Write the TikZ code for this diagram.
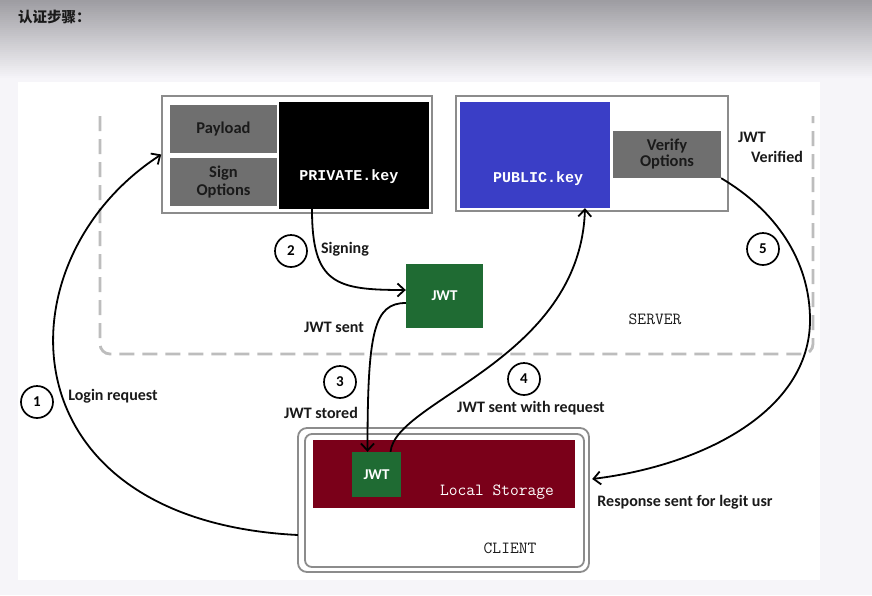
\documentclass[tikz,border=0pt]{standalone}
\usepackage{fontspec}
\setmainfont{Carlito}
\newfontfamily\keyfont{Liberation Mono}
\newfontfamily\cjkfont{Noto Sans CJK SC}
\usepackage{xcolor}
\usetikzlibrary{arrows.meta}
\definecolor{optgray}{HTML}{6F6F6F}
\definecolor{framegray}{HTML}{8C8C8C}
\definecolor{dashgray}{HTML}{BDBDBD}
\definecolor{pubblue}{HTML}{3A3EC6}
\definecolor{jwtgreen}{HTML}{1F6B33}
\definecolor{storered}{HTML}{7A0019}
\definecolor{inkblack}{HTML}{1A1A1A}
\definecolor{paper}{HTML}{F6F5F9}
\definecolor{headtop}{RGB}{158,157,162}
\definecolor{headbot}{RGB}{246,245,249}

\begin{document}
\begin{tikzpicture}[x=1pt,y=-1pt,
  txt/.style={text=inkblack,font=\bfseries\fontsize{16}{18}\selectfont,inner sep=0pt},
  keytxt/.style={text=white,font=\keyfont\bfseries\fontsize{15}{17}\selectfont,inner sep=0pt},
  sidetxt/.style={text=inkblack,font=\ttfamily\fontsize{17}{19}\selectfont,inner sep=0pt},
  optbox/.style={fill=optgray,inner sep=0pt,align=center,text=inkblack,
    font=\bfseries\fontsize{16.5}{18}\selectfont},
  frame/.style={draw=framegray,line width=1.5pt,fill=white,inner sep=0pt},
  plain/.style={inner sep=0pt},
  num/.style={circle,draw=black,line width=1.7pt,minimum size=32pt,inner sep=0pt,
    font=\bfseries\fontsize{15}{17}\selectfont},
  flow/.style={line width=1.8pt,-{Straight Barb[length=7pt,width=13pt,line width=1.8pt]}}]

  % background and header
  \useasboundingbox (0,0) rectangle (872,595);
  \fill[paper] (0,0) rectangle (872,595);
  \foreach \i in {0,...,39}{
    \pgfmathsetmacro\mixpct{100-100*\i/39}
    \fill[headtop!\mixpct!headbot] (0,2*\i) rectangle (872,2*\i+2.2);
  }
  \fill[white] (18,82) rectangle (820,580);
  \node[anchor=west,inner sep=0pt,text=inkblack,font=\cjkfont\bfseries\fontsize{14.5}{16}\selectfont]
    (title) at (18,17) {认证步骤：};

  % server area
  \draw[dashgray,line width=2.8pt,dash pattern=on 15pt off 8pt,rounded corners=10pt]
    (100,116) -- (100,354) -- (813,354) -- (813,116);
  \node[sidetxt] (server) at (655,319) {SERVER};

  % signing side
  \node[frame,minimum width=270pt,minimum height=117pt] (priv) at (297,154.5) {};
  \node[optbox,minimum width=107pt,minimum height=48pt] (payload) at (223.5,129) {Payload};
  \node[optbox,minimum width=107pt,minimum height=48pt] (signopt) at (223.5,182) {Sign\\Options};
  \node[fill=black,plain,minimum width=150pt,minimum height=107pt] (privkey) at (354,155.5) {};
  \node[keytxt] (privtxt) at (349,177) {PRIVATE.key};

  % verifying side
  \node[frame,minimum width=272pt,minimum height=115pt] (pub) at (592,153.5) {};
  \node[fill=pubblue,plain,minimum width=150pt,minimum height=106pt] (pubkey) at (535,155) {};
  \node[keytxt] (pubtxt) at (538,179) {PUBLIC.key};
  \node[optbox,minimum width=108pt,minimum height=47pt,font=\bfseries\fontsize{16.5}{16}\selectfont]
    (verify) at (667,154.5) {Verify\\Options};

  % token
  \node[fill=jwtgreen,plain,minimum width=77pt,minimum height=64pt,text=white,
    font=\bfseries\fontsize{15}{17}\selectfont] (jwt) at (444.5,296) {JWT};

  % client
  \draw[framegray,line width=1.8pt,rounded corners=9pt] (298,428) rectangle (589,572);
  \draw[framegray,line width=1.8pt,rounded corners=7pt] (305,434) rectangle (584,567);
  \node[plain,minimum width=291pt,minimum height=144pt] (client) at (443.5,500) {};
  \node[fill=storered,plain,minimum width=262pt,minimum height=68pt] (store) at (444,474) {};
  \node[text=white,font=\ttfamily\fontsize{17}{19}\selectfont,inner sep=0pt] (storetxt) at (497,492) {Local Storage};
  \node[fill=jwtgreen,plain,minimum width=49pt,minimum height=45pt,text=white,
    font=\bfseries\fontsize{15}{17}\selectfont] (cjwt) at (376.5,474.5) {JWT};
  \node[sidetxt] (clienttxt) at (510,548) {CLIENT};

  % flows
  \draw[flow] ([yshift=-35pt]client.west) .. controls +(-297,-15) and +(-162,105) .. (priv.west);
  \draw[flow] ([xshift=-42pt]privkey.south) .. controls +(0,75) and +(-70,0) .. ([yshift=6pt]jwt.west);
  \draw[flow] ([yshift=-7pt]jwt.west) .. controls +(-32,0) and +(0,-120) .. ([xshift=-9pt]cjwt.north);
  \draw[flow] ([xshift=14pt]cjwt.north) .. controls +(5,-52) and +(-5,152) .. ([xshift=50pt]pubkey.south);
  \draw[flow] (verify.south east) .. controls (775,210) and (810,260) .. (810,320)
    .. controls (810,410) and (705,465) .. ([xshift=3pt,yshift=21pt]client.east);

  % labels
  \node[num] (n1) at (37,402) {1};
  \node[num] (n2) at (291,251) {2};
  \node[num] (n3) at (340,382) {3};
  \node[num] (n4) at (524,379) {4};
  \node[num] (n5) at (763,249) {5};
  \node[txt] (login) at (113,396) {Login request};
  \node[txt] (signing) at (345,249) {Signing};
  \node[txt] (sent) at (334,327) {JWT sent};
  \node[txt] (stored) at (321,413) {JWT stored};
  \node[txt] (withreq) at (531,408) {JWT sent with request};
  \node[txt] (vjwt) at (752,137) {JWT};
  \node[txt] (verified) at (777,157) {Verified};
  \node[txt] (response) at (685,502) {Response sent for legit usr};
\end{tikzpicture}
\end{document}
